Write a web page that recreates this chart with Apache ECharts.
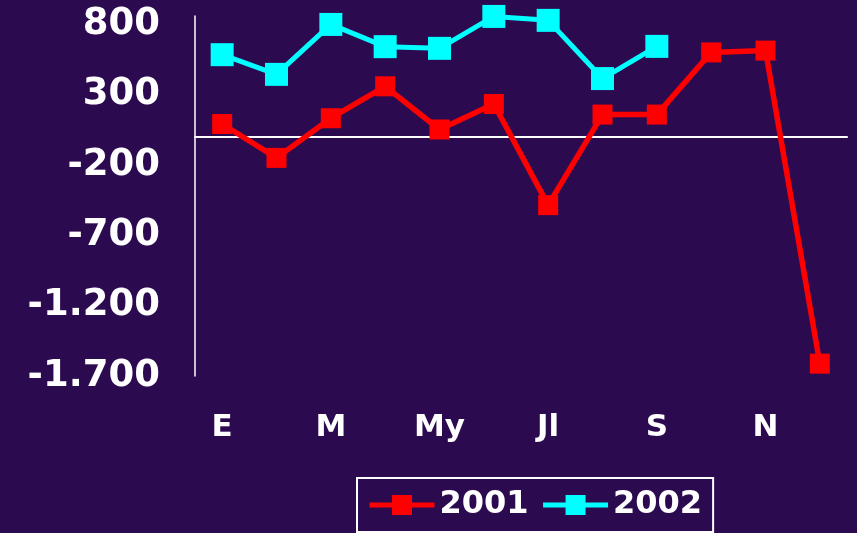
<!DOCTYPE html>
<html>
<head>
<meta charset="utf-8">
<script src="https://cdn.jsdelivr.net/npm/echarts@6/dist/echarts.min.js"></script>
<style>
  html, body { margin: 0; padding: 0; background: #2c0a50; }
  #chart { width: 857px; height: 533px; }
</style>
</head>
<body>
<div id="chart"></div>
<script>
// meses (se muestra uno de cada dos)
const months = ['E', 'F', 'M', 'A', 'My', 'Jn', 'Jl', 'Ag', 'S', 'O', 'N', 'D']
const values2001 = [92, -149, 133, 360, 53, 234, -485, 159, 159, 601, 614, -1612]
const values2002 = [585, 445, 800, 642, 630, 857, 829, 415, 644]

// -1700 -> "-1.700"
const fmt = (v) => {
  const s = String(Math.abs(v)).replace(/\B(?=(\d{3})+(?!\d))/g, '.')
  return (v < 0 ? '-' : '') + s
}

const chart = echarts.init(document.getElementById('chart'))

const font = 'DejaVu Sans, Verdana, sans-serif'

const option = {
  backgroundColor: '#2c0a50',
  animation: false,
  grid: {
    left: 195,
    right: 10,
    top: 16,
    bottom: 157
  },
  legend: {
    left: 357,
    top: 478,
    padding: [11, 11, 11, 10],
    itemGap: 12,
    itemWidth: 65,
    itemHeight: 25,
    borderColor: '#ffffff',
    borderWidth: 2,
    lineStyle: { width: 5 },
    textStyle: {
      color: '#ffffff',
      fontFamily: font,
      fontWeight: 'bold',
      fontSize: 32
    },
    data: ['2001', '2002']
  },
  xAxis: [
    {
      // línea del cero
      type: 'category',
      data: months,
      axisLine: { onZero: true, lineStyle: { color: '#ffffff', width: 2 } },
      axisTick: { show: false },
      axisLabel: { show: false }
    },
    {
      // etiquetas abajo
      type: 'category',
      data: months,
      position: 'bottom',
      axisLine: { show: false, onZero: false },
      axisTick: { show: false },
      axisLabel: {
        interval: 1,
        margin: 36,
        color: '#ffffff',
        fontFamily: font,
        fontWeight: 'bold',
        fontSize: 31
      }
    }
  ],
  yAxis: {
    type: 'value',
    min: -1700,
    max: 860,
    interval: 500,
    axisLine: { show: true, lineStyle: { color: '#ffffff', width: 1.5 } },
    axisTick: { show: false },
    splitLine: { show: false },
    axisLabel: {
      showMaxLabel: false,
      margin: 35,
      color: '#ffffff',
      fontFamily: font,
      fontWeight: 'bold',
      fontSize: 37,
      formatter: fmt
    }
  },
  series: [
    {
      name: '2001',
      type: 'line',
      data: values2001,
      symbol: 'rect',
      symbolSize: 20,
      clip: false,
      color: '#ff0000',
      lineStyle: { color: '#ff0000', width: 5.5 },
      itemStyle: { color: '#ff0000' }
    },
    {
      name: '2002',
      type: 'line',
      data: values2002,
      symbol: 'rect',
      symbolSize: 23,
      clip: false,
      color: '#00ffff',
      lineStyle: { color: '#00ffff', width: 5 },
      itemStyle: { color: '#00ffff' }
    }
  ]
}

chart.setOption(option)
</script>
</body>
</html>
